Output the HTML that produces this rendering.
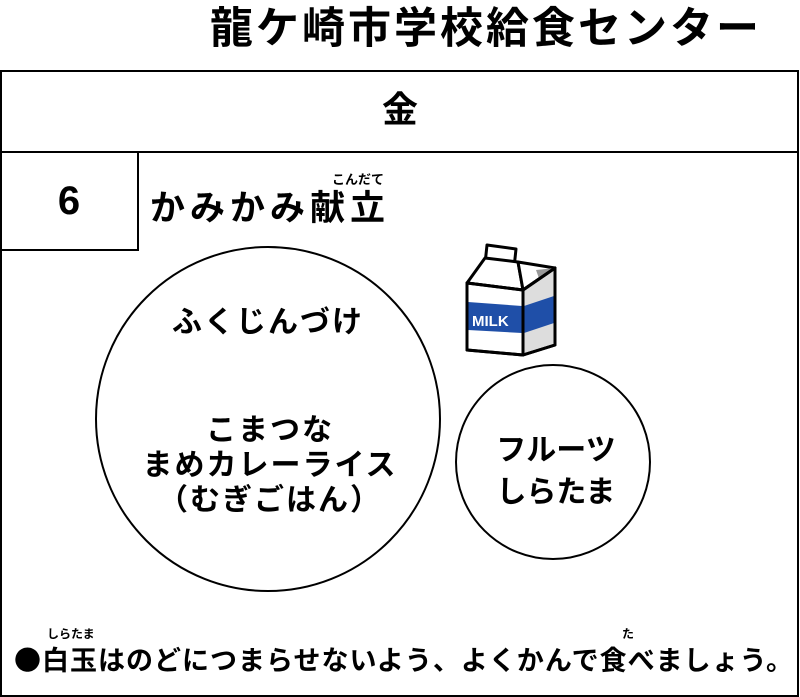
<!DOCTYPE html>
<html><head><meta charset="utf-8"><style>
body{margin:0;width:800px;height:697px;background:#fff;position:relative;overflow:hidden;font-family:"Liberation Sans","Noto Sans CJK JP",sans-serif;font-weight:bold;color:#000}
.a{position:absolute;white-space:nowrap;line-height:1}
.c{position:absolute;transform:translateX(-50%);white-space:nowrap;line-height:1;text-align:center}
</style></head><body>
<div class="a" style="left:210px;top:8px;font-size:43px;letter-spacing:3px">龍ケ崎市学校給食センター</div>
<div style="position:absolute;left:0;top:70px;width:795px;height:623px;border:2px solid #000"></div>
<div style="position:absolute;left:0;top:151px;width:799px;height:2px;background:#000"></div>
<div style="position:absolute;left:0;top:151px;width:137px;height:98px;border-right:2px solid #000;border-bottom:2px solid #000"></div>
<div class="c" style="left:400px;top:92px;font-size:36px">金</div>
<div class="c" style="left:69px;top:181px;font-size:40px;font-family:'Liberation Sans',sans-serif">6</div>
<div class="a" style="left:150px;top:191px;font-size:35px;letter-spacing:5px">かみかみ献立</div>
<div class="a" style="left:332px;top:173px;font-size:13px">こんだて</div>
<svg style="position:absolute;left:0;top:0" width="800" height="697">
<circle cx="268" cy="419" r="172" fill="none" stroke="#000" stroke-width="2"/>
<circle cx="553" cy="462" r="97" fill="none" stroke="#000" stroke-width="2"/>
<g stroke="#000" stroke-width="3" stroke-linejoin="round">
<polygon points="487,245 516,249 514,268 485,264" fill="#fff"/>
<polygon points="467,283 485,258 518,262 523,290" fill="#fff"/>
<polygon points="518,262 555,268 523,290" fill="#fff"/>
<polygon points="536,270 555,268 541,284" fill="#999" stroke="none"/>
<polygon points="467,283 523,290 523,355 467,350" fill="#fff"/>
<polygon points="523,290 555,268 555,345 523,355" fill="#ddd"/>
</g>
<polygon points="468,302 522,306 522,333 468,330" fill="#1f4fa8"/>
<polygon points="524,306 554,296 554,323 524,333" fill="#1f4fa8"/>
<g stroke="#000" stroke-width="3" fill="none" stroke-linejoin="round">
<polygon points="467,283 523,290 523,355 467,350"/>
<polygon points="523,290 555,268 555,345 523,355"/>
</g>
<text x="472" y="326" font-size="15" fill="#fff" font-family="Liberation Sans" font-weight="bold">MILK</text>
</svg>
<div class="c" style="left:268px;top:308px;font-size:30px;letter-spacing:2px">ふくじんづけ</div>
<div class="c" style="left:270px;top:413px;font-size:30px;letter-spacing:2px;line-height:35px">こまつな<br>まめカレーライス<br>（むぎごはん）</div>
<div class="c" style="left:556px;top:430px;font-size:30px;line-height:42px">フルーツ<br>しらたま</div>
<div class="a" style="left:14px;top:645px;font-size:27px;letter-spacing:1px;font-family:'Noto Sans CJK JP',sans-serif;line-height:1">●白玉はのどにつまらせないよう、よくかんで食べましょう。</div>
<div class="a" style="left:47px;top:628px;font-size:12px">しらたま</div>
<div class="a" style="left:622px;top:628px;font-size:12px">た</div>
</body></html>
